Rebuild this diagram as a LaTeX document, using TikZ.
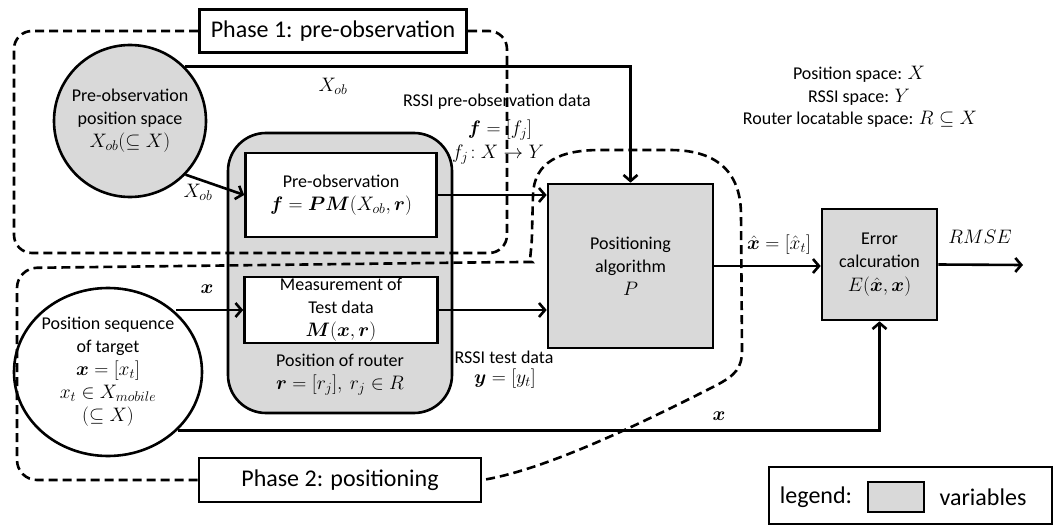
\RequirePackage{fix-cm}
\documentclass[tikz,border=0pt]{standalone}
\usepackage{amsmath}
\usepackage{bm}
\usepackage{fontspec}
\setmainfont{Carlito}
\usetikzlibrary{arrows.meta,shapes.geometric}
\definecolor{vargrey}{HTML}{D9D9D9}
\DeclareMathSizes{18}{19.5}{14}{11}
\newcommand\bodyfs{\fontsize{18}{23}\selectfont}
\newcommand\phasefs{\fontsize{24}{28}\selectfont}
\begin{document}
\begin{tikzpicture}[x=1pt,y=-1pt,
  every node/.style={font=\bodyfs, align=center, inner sep=0pt},
  thk/.style={line width=2.6pt},
  arr/.style={thk, -{Straight Barb[length=6pt,width=14pt]}},
  region/.style={line width=2.6pt, dash pattern=on 9pt off 5pt},
  varbox/.style={draw, thk, fill=vargrey},
  plainbox/.style={draw, thk, fill=white},
  phase/.style={draw, thk, fill=white, font=\phasefs},
]
\useasboundingbox (0,0) rectangle (1058,527);

% router block
\node[varbox, rounded corners=38pt, minimum width=224pt, minimum height=280pt] (router) at (340,273) {};
\node[plainbox, minimum width=191pt, minimum height=84pt] (prebox) at (341,195) {Pre-observation\\$\bm{f}=\bm{PM}(X_{ob},\bm{r})$};
\node[plainbox, minimum width=193pt, minimum height=66pt] (measbox) at (341,310) {Measurement of\\Test data\\$\bm{M}(\bm{x},\bm{r})$};
\node (routerlbl) at (340,375) {Position of router\\$\bm{r}=[r_j],\ r_j\in R$};

% spaces
\node[varbox, circle, minimum size=152pt] (circ1) at (130,121) {Pre-observation\\position space\\$X_{ob}(\subseteq X)$};
\node[draw, thk, ellipse, minimum width=188pt, minimum height=168pt, inner sep=-16pt] (circ2) at (108,372) {Position sequence\\of target\\$\bm{x}=[x_t]$\\$x_t\in X_{mobile}$\\$(\subseteq X)$};

% algorithm and error
\node[varbox, minimum width=165pt, minimum height=164pt] (posbox) at (630.5,266) {Positioning\\algorithm\\$P$};
\node[varbox, minimum width=115pt, minimum height=111pt] (errbox) at (879.5,264.5) {Error\\calcuration\\[1pt]$E(\hat{\bm{x}},\bm{x})$};
\coordinate (out) at (1023,265);

% phase labels
\node[phase, minimum width=267pt, minimum height=43pt] (p1) at (333,31) {Phase 1: pre-observation};
\node[phase, minimum width=282pt, minimum height=44pt] (p2) at (340,480) {Phase 2: positioning};

% phase regions
\draw[region, rounded corners=18pt] (p1.west) -- (14,31) -- (14,253) -- (507,253) -- (507,31) -- (p1.east);
\draw[region, rounded corners=20pt] (p2.west) -- (17,480) -- (17,268) -- (512,262) [sharp corners]
  .. controls (528,262) and (532,252) .. (532,232) -- (533,195)
  .. controls (534,162) and (560,150) .. (600,150) -- (670,150)
  .. controls (720,150) and (741,175) .. (741,215) -- (742,350)
  .. controls (742,368) and (736,375) .. (715,386)
  .. controls (640,424) and (545,470) .. (p2.east);

% connectors
\draw[arr] (circ1.45) -- (circ1.45 -| posbox.north) -- (posbox.north);
\draw[arr] (circ1.-44) -- (prebox.west);
\draw[arr] (prebox.east) -- (prebox.east -| posbox.west);
\draw[arr] (circ2.41 |- measbox.west) -- (measbox.west);
\draw[arr] (measbox.east) -- (measbox.east -| posbox.west);
\draw[arr] (posbox.east) -- (posbox.east -| errbox.west);
\draw[arr] (errbox.east) -- (out);
\draw[arr] (circ2.-40) -- (circ2.-40 -| errbox.south) -- (errbox.south);

% labels
\node (lxob1) at (333,86) {$X_{ob}$};
\node (lxob2) at (198,192) {$X_{ob}$};
\node (lx1) at (207,289) {$\bm{x}$};
\node (lrssia) at (497,102) {RSSI pre-observation data};
\node (lrssib) at (500,130) {$\bm{f}=[f_j]$};
\node (lrssic) at (498,155) {$f_j\!:X\rightarrow Y$};
\node (ltesta) at (504,357) {RSSI test data};
\node (ltestb) at (505,379) {$\bm{y}=[y_t]$};
\node (lxhat) at (779,245) {$\hat{\bm{x}}=[\hat{x}_t]$};
\node (lrmse) at (980,237) {$RMSE$};
\node (lx2) at (719,416) {$\bm{x}$};
\node (defa) at (859,74) {Position space: $X$};
\node (defb) at (859,97) {RSSI space: $Y$};
\node (defc) at (860,119) {Router locatable space: $R\subseteq X$};

% legend
\node[draw, thk, minimum width=283pt, minimum height=57pt] (legend) at (910.5,495.5) {};
\node[varbox, line width=2.2pt, minimum width=56pt, minimum height=30pt] (swatch) at (896,497) {};
\node[font=\phasefs] (leglbl) at (816,497) {legend:};
\node[font=\phasefs] (legvar) at (983,497) {variables};
\end{tikzpicture}
\end{document}
